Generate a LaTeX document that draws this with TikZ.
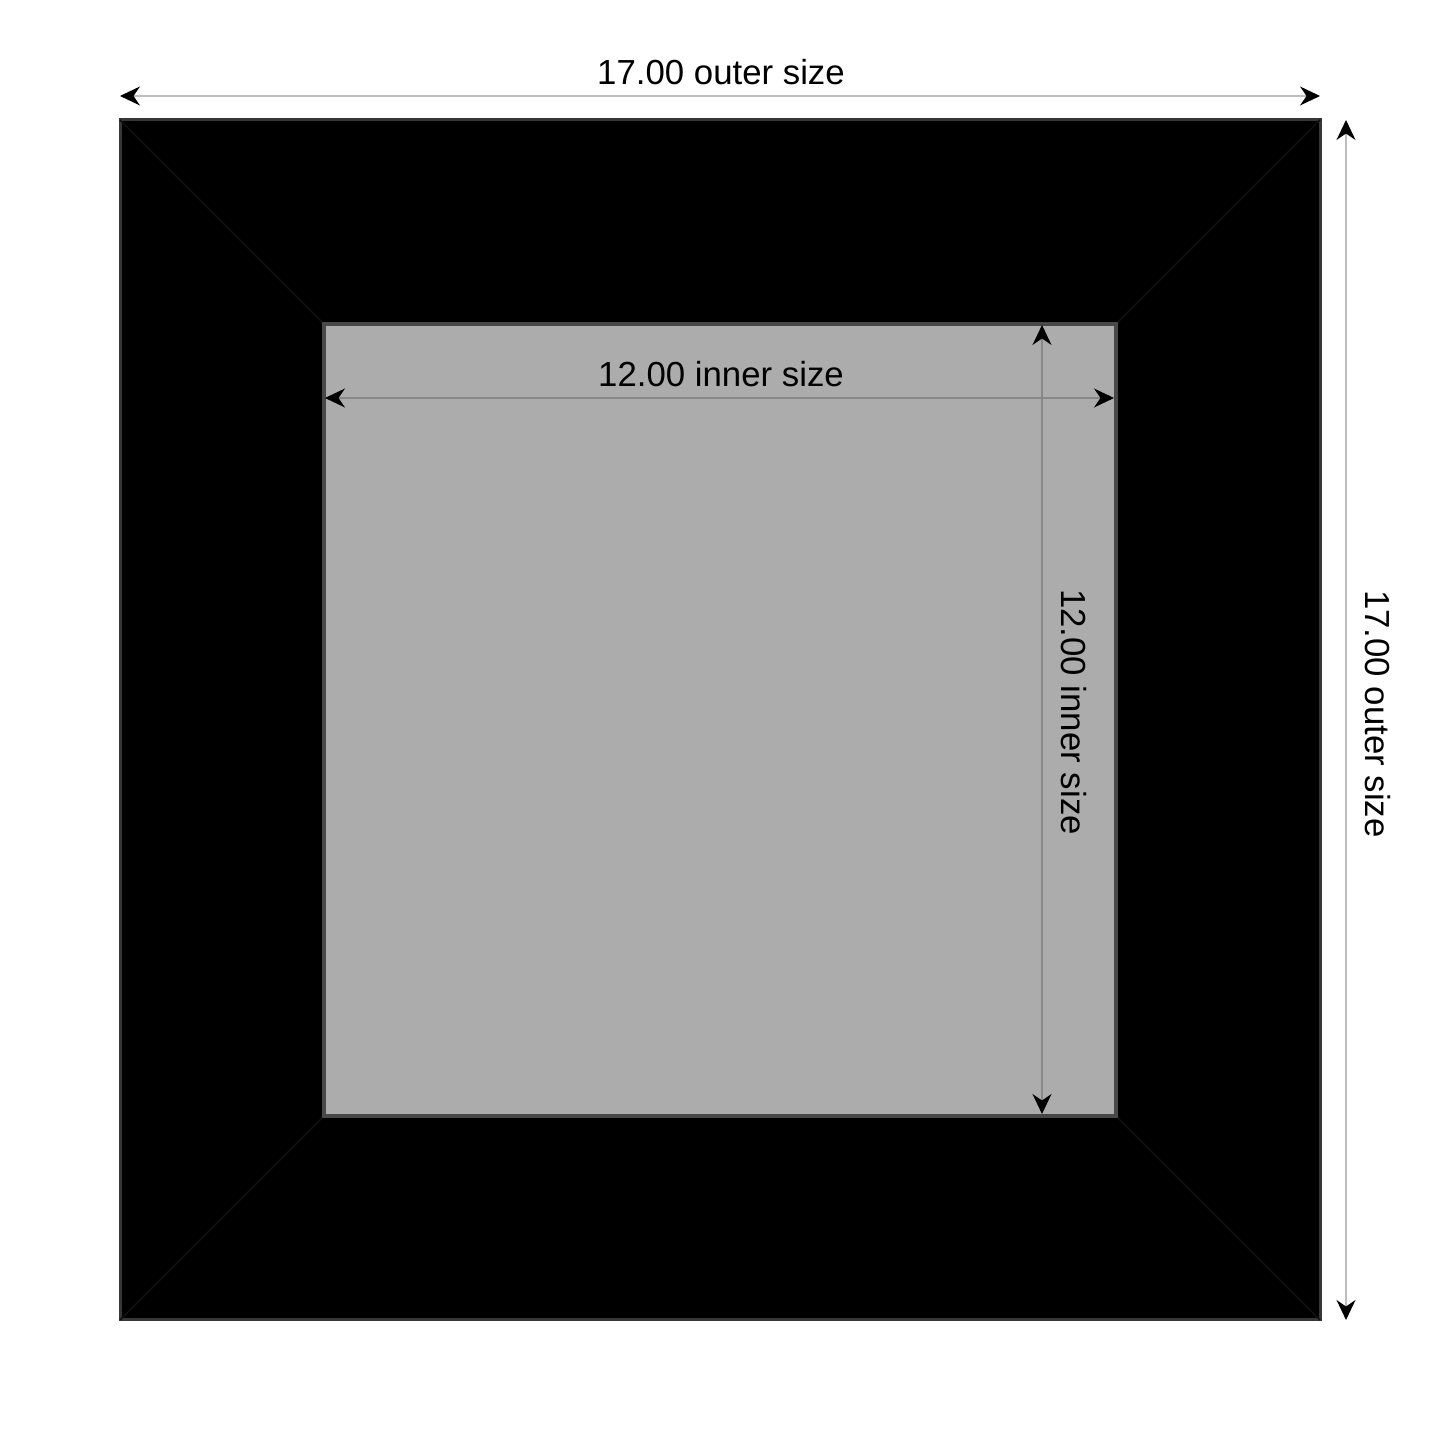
\documentclass[tikz,border=0pt]{standalone}
\usepackage{fontspec}
\setmainfont{Liberation Sans}
\usetikzlibrary{arrows.meta}
\definecolor{rimgray}{RGB}{55,55,55}
\definecolor{mitregray}{RGB}{16,16,16}
\definecolor{matgray}{RGB}{172,172,172}
\definecolor{matrim}{RGB}{72,72,72}
\definecolor{outerdim}{RGB}{190,190,190}
\definecolor{innerdim}{RGB}{135,135,135}
\tikzset{
  dimline/.style={line width=0.012cm,
    {Stealth[length=0.2cm,width=0.19cm,inset=0.065cm,black]}-{Stealth[length=0.2cm,width=0.19cm,inset=0.065cm,black]}},
  dimlabel/.style={font=\fontsize{9.9}{12}\selectfont, inner sep=0pt}
}
\begin{document}
\begin{tikzpicture}[scale = 1]
\useasboundingbox (0,0) rectangle (14.4,14.4);
\fill[white] (0,0) rectangle (14.4,14.4);
\draw[fill = black, draw = rimgray, line width = 0.03cm] (1.2,1.2) rectangle (13.2,13.2);
\draw[mitregray, line width = 0.015cm] (1.2,1.2) -- (3.24,3.24);
\draw[mitregray, line width = 0.015cm] (13.2,1.2) -- (11.16,3.24);
\draw[mitregray, line width = 0.015cm] (1.2,13.2) -- (3.24,11.16);
\draw[mitregray, line width = 0.015cm] (13.2,13.2) -- (11.16,11.16);
\draw[fill = matgray, draw = matrim, line width = 0.035cm] (3.24,3.24) rectangle (11.16,11.16);
\coordinate (topleft) at (1.2,13.44);
\coordinate (topright) at (13.2,13.44);
\coordinate (sidetop) at (13.46,13.2);
\coordinate (sidebottom) at (13.46,1.2);
\coordinate (innerleft) at (3.25,10.42);
\coordinate (innerright) at (11.14,10.42);
\coordinate (innertop) at (10.42,11.15);
\coordinate (innerbottom) at (10.42,3.26);
\draw[dimline, outerdim] (topleft) -- (topright);
\draw[dimline, outerdim] (sidetop) -- (sidebottom);
\draw[dimline, innerdim] (innerleft) -- (innerright);
\draw[dimline, innerdim] (innertop) -- (innerbottom);
\node[dimlabel] (outerwidth) at (7.21,13.68){17.00 outer size};
\node[dimlabel, rotate = -90] (outerheight) at (13.78,7.26){17.00 outer size};
\node[dimlabel] (innerwidth) at (7.21,10.66){12.00 inner size};
\node[dimlabel, rotate = -90] (innerheight) at (10.74,7.28){12.00 inner size};
\end{tikzpicture}
\end{document}
